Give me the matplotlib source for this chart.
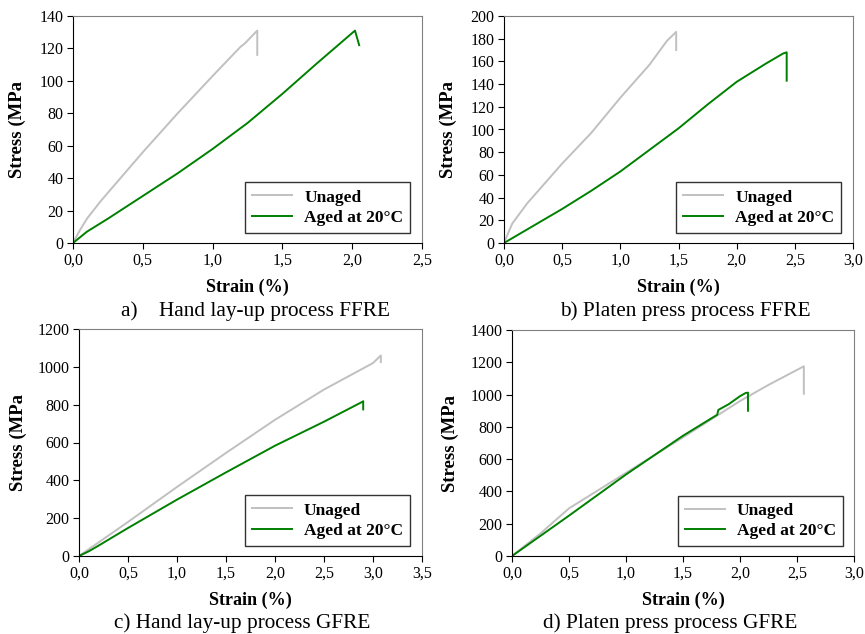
import numpy as np
import matplotlib
matplotlib.use('Agg')
from matplotlib import pyplot as plt

plt.rcParams['font.family'] = ['Liberation Serif', 'DejaVu Serif']

# a) hand lay-up FFRE
a_unaged_x = [0.0, 0.05, 0.1, 0.2, 0.3, 0.5, 0.75, 1.0, 1.2, 1.23, 1.32, 1.32]
a_unaged_y = [0, 8, 15, 26, 36, 56, 80, 103, 121, 123, 131, 116]
a_aged_x = [0.0, 0.1, 0.25, 0.5, 0.75, 1.0, 1.25, 1.5, 1.75, 2.02, 2.05]
a_aged_y = [0, 7, 15, 29, 43, 58, 74, 92, 111, 131, 122]

# b) platen press FFRE
b_unaged_x = [0.0, 0.07, 0.2, 0.5, 0.75, 1.0, 1.25, 1.4, 1.48, 1.48]
b_unaged_y = [0, 17, 35, 70, 97, 128, 157, 178, 186, 170]
b_aged_x = [0.0, 0.25, 0.5, 0.75, 1.0, 1.25, 1.5, 1.75, 2.0, 2.25, 2.4, 2.43, 2.43]
b_aged_y = [0, 15, 30, 46, 63, 82, 101, 122, 142, 158, 167, 168, 143]

# c) hand lay-up GFRE
c_unaged_x = [0.0, 0.5, 1.0, 1.5, 2.0, 2.5, 3.0, 3.08, 3.08]
c_unaged_y = [0, 180, 365, 545, 720, 880, 1020, 1060, 1025]
c_aged_x = [0.0, 0.1, 0.2, 0.5, 1.0, 1.5, 2.0, 2.5, 2.88, 2.9, 2.9]
c_aged_y = [0, 25, 55, 148, 298, 442, 583, 710, 812, 818, 775]

# d) platen press GFRE
d_unaged_x = [0.0, 0.25, 0.5, 1.0, 1.5, 1.8, 2.0, 2.25, 2.56, 2.56]
d_unaged_y = [0, 140, 295, 515, 735, 870, 960, 1060, 1175, 1005]
d_aged_x = [0.0, 0.5, 1.0, 1.5, 1.8, 1.81, 1.9, 2.0, 2.05, 2.07, 2.07]
d_aged_y = [0, 250, 505, 745, 875, 905, 940, 990, 1010, 1012, 900]

# pixel layout: axes box (left, bottom, width, height), y-label x, x-label y
panels = [
    dict(rect=[73, 243, 349, 227], ylab_x=17, xlab_y=287,
         xmax=2.5, ymax=140, ystep=20,
         unaged=(a_unaged_x, a_unaged_y), aged=(a_aged_x, a_aged_y),
         caption='a)    Hand lay-up process FFRE', cap_xy=(255, 311),
         leg_x=0.966),
    dict(rect=[504, 243, 349, 227], ylab_x=448, xlab_y=287,
         xmax=3.0, ymax=200, ystep=20,
         unaged=(b_unaged_x, b_unaged_y), aged=(b_aged_x, b_aged_y),
         caption='b) Platen press process FFRE', cap_xy=(685, 311),
         leg_x=0.966),
    dict(rect=[79, 556, 343, 227], ylab_x=18, xlab_y=600,
         xmax=3.5, ymax=1200, ystep=200,
         unaged=(c_unaged_x, c_unaged_y), aged=(c_aged_x, c_aged_y),
         caption='c) Hand lay-up process GFRE', cap_xy=(242, 623),
         leg_x=0.965),
    dict(rect=[512, 556, 342, 226], ylab_x=450, xlab_y=600,
         xmax=3.0, ymax=1400, ystep=200,
         unaged=(d_unaged_x, d_unaged_y), aged=(d_aged_x, d_aged_y),
         caption='d) Platen press process GFRE', cap_xy=(670, 623),
         leg_x=0.968),
]

W, H = 865, 634
fig = plt.figure(figsize=(W / 100, H / 100), dpi=100)

for p in panels:
    left, bottom, w, h = p['rect']
    ax = fig.add_axes([left / W, (H - bottom) / H, w / W, h / H])
    ax.plot(*p['unaged'], color='#c0c0c0', lw=1.4, label='Unaged')
    ax.plot(*p['aged'], color='#008000', lw=1.4, label='Aged at 20\u00b0C')
    ax.set_xlim(0, p['xmax'])
    ax.set_ylim(0, p['ymax'])
    xt = np.arange(0, p['xmax'] + 0.01, 0.5)
    ax.set_xticks(xt)
    ax.set_xticklabels(['{:.1f}'.format(v).replace('.', ',') for v in xt])
    yt = np.arange(0, p['ymax'] + 1, p['ystep'])
    ax.set_yticks(yt)
    ax.set_yticklabels([str(int(v)) for v in yt])
    ax.tick_params(direction='out', length=4, width=0.8, labelsize=11.5,
                   colors='black', pad=3)
    for s in ['top', 'right']:
        ax.spines[s].set_color('#808080')
    for s in ['left', 'bottom']:
        ax.spines[s].set_color('black')
    ax.set_xlabel('Strain (%)', fontsize=13, fontweight='bold', va='center')
    ax.xaxis.set_label_coords(0.5, (bottom - p['xlab_y']) / h)
    ax.set_ylabel('Stress (MPa', fontsize=13.5, fontweight='bold', va='center')
    ax.yaxis.set_label_coords((p['ylab_x'] - left) / w, 0.5)
    leg = ax.legend(loc='lower right', bbox_to_anchor=(p['leg_x'], 0.044),
                    fancybox=False, frameon=True, edgecolor='black',
                    prop={'weight': 'bold', 'size': 12.5},
                    handlelength=2.3, borderpad=0.4, labelspacing=0.25,
                    handletextpad=0.7, borderaxespad=0)
    leg.get_frame().set_linewidth(1.0)
    fig.text(p['cap_xy'][0] / W, 1 - p['cap_xy'][1] / H, p['caption'],
             ha='center', va='center', fontsize=15.3)

plt.savefig('out.png', dpi=100)
